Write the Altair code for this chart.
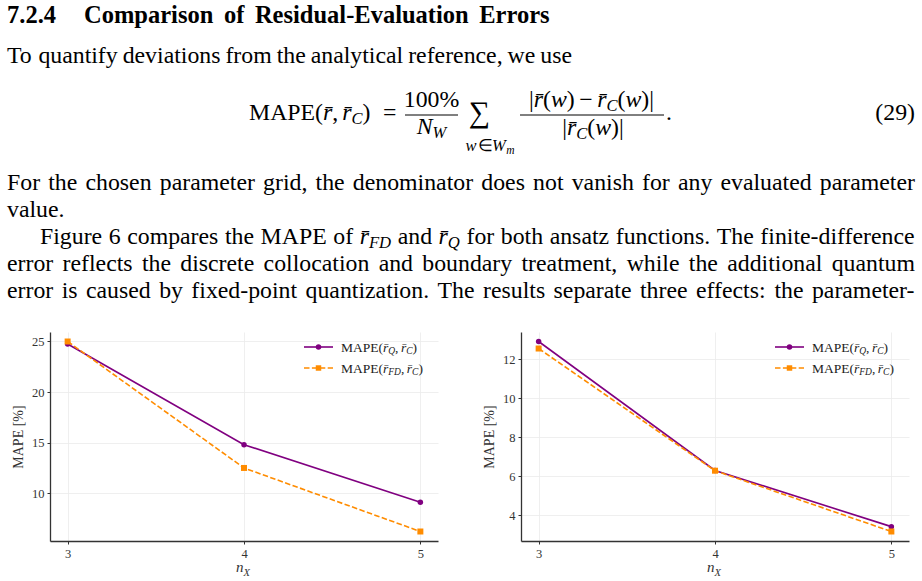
import altair as alt
import pandas as pd

# ---------------------------------------------------------------- data
nx_values = [3, 4, 5]
x_tick_values = [3, 4, 5]
series_keys = ["Q", "FD"]

left_mape_q = [24.75, 14.8, 9.1]
left_mape_fd = [25.0, 12.5, 6.22]
left_y_ticks = [10, 15, 20, 25]

right_mape_q = [12.92, 6.3, 3.42]
right_mape_fd = [12.56, 6.29, 3.17]
right_y_ticks = [4, 6, 8, 10, 12]

# ---------------------------------------------------------------- page text
heading_number = "7.2.4"
heading_title = "Comparison of Residual-Evaluation Errors"
intro_line = "To quantify deviations from the analytical reference, we use"
paragraph_lines = [
    "For the chosen parameter grid, the denominator does not vanish for any evaluated parameter",
    "value.",
    "Figure 6 compares the MAPE of r\u0304_FD and r\u0304_Q for both ansatz functions. The finite-difference",
    "error reflects the discrete collocation and boundary treatment, while the additional quantum",
    "error is caused by fixed-point quantization. The results separate three effects: the parameter-",
]
equation_tag = "(29)"
y_title = "MAPE [%]"

# ---------------------------------------------------------------- style
SERIF = "Liberation Serif"
PURPLE = "#800080"
ORANGE = "#ff8c00"
AXIS_INK = "#333333"
GRID = "#ebebeb"
BODY = 23.8
SUB = 16.5
RBAR = "r\u0304"

# advance widths (1/1000 em) of the Times-metric serif faces
_LOWER = "abcdefghijklmnopqrstuvwxyz"
_UPPER = "ABCDEFGHIJKLMNOPQRSTUVWXYZ"
_COMMON = {" ": 250, ",": 250, ".": 250, "-": 333, "(": 333, ")": 333, "[": 333,
           "]": 333, ":": 278, ";": 278, "%": 833, "|": 200, "=": 564, "\u2212": 564,
           "\u2208": 667, "\u2211": 713, "\u0304": 0}
_COMMON.update({d: 500 for d in "0123456789"})


def _widths(lower, upper):
    table = dict(zip(_LOWER, lower))
    table.update(zip(_UPPER, upper))
    table.update(_COMMON)
    return table


ADV = {
    "roman": _widths(
        [444, 500, 444, 500, 444, 333, 500, 500, 278, 278, 500, 278, 778, 500, 500, 500,
         500, 333, 389, 278, 500, 500, 722, 500, 500, 444],
        [722, 667, 667, 722, 611, 556, 722, 722, 333, 389, 722, 611, 889, 722, 722, 556,
         722, 667, 556, 611, 722, 722, 944, 722, 722, 611]),
    "italic": _widths(
        [500, 500, 444, 500, 444, 278, 500, 500, 278, 278, 444, 278, 722, 500, 500, 500,
         500, 389, 389, 278, 500, 444, 667, 444, 444, 389],
        [611, 611, 667, 722, 611, 611, 722, 722, 333, 444, 667, 556, 833, 667, 722, 611,
         722, 611, 500, 556, 722, 611, 833, 611, 556, 556]),
    "bold": _widths(
        [500, 556, 444, 556, 444, 333, 500, 556, 278, 333, 556, 278, 833, 556, 500, 556,
         556, 444, 389, 333, 556, 500, 722, 500, 500, 444],
        [722, 667, 722, 722, 667, 611, 778, 778, 389, 500, 778, 667, 944, 722, 778, 611,
         778, 722, 556, 667, 722, 722, 1000, 722, 722, 667]),
}


def seg_width(text, style, size):
    return sum(ADV[style].get(ch, 500) for ch in text) * size / 1000.0


def S(text, style="roman", size=BODY, dy=0.0, gap=0.0):
    return dict(text=text, style=style, size=size, dy=dy, gap=gap)


def chain_width(segs):
    return sum(seg_width(s["text"], s["style"], s["size"]) + s["gap"] for s in segs)


def place(segs, x, baseline, rows):
    for s in segs:
        rows.append(dict(t=s["text"], x=x, y=baseline + s["dy"], fs=s["size"], style=s["style"]))
        x += seg_width(s["text"], s["style"], s["size"]) + s["gap"]
    return x


def place_centered(segs, cx, baseline, rows):
    place(segs, cx - chain_width(segs) / 2.0, baseline, rows)


def word_segments(word, size, style):
    if "_" in word:
        base, sub = word.split("_", 1)
        return [S(base, "italic", size), S(sub, "italic", size * 0.7, dy=size * 0.15)]
    return [S(word, style, size)]


def set_line(line, x_left, baseline, rows, x_right=None, size=BODY, style="roman"):
    """Set one line of prose; with x_right the inter-word space is stretched to justify."""
    tokens = [word_segments(w, size, style) for w in line.split(" ")]
    widths = [chain_width(t) for t in tokens]
    if x_right is None or len(tokens) < 2:
        gap = seg_width(" ", style, size)
    else:
        gap = (x_right - x_left - sum(widths)) / (len(tokens) - 1)
    x = x_left
    for tok, w in zip(tokens, widths):
        place(tok, x, baseline, rows)
        x += w + gap


# ---------------------------------------------------------------- page text layout
rows = []
HEAD = 24.5
place([S(heading_number, "bold", HEAD)], 7, 23, rows)
set_line(heading_title, 84, 23, rows, x_right=550, size=HEAD, style="bold")
set_line(intro_line, 7, 63, rows, x_right=572)

para_baselines = [190, 217, 244, 271, 298]
para_left = [7, 7, 40, 7, 7]
para_right = [915, None, 915, 915, 915]
for line, yb, xl, xr in zip(paragraph_lines, para_baselines, para_left, para_right):
    set_line(line, xl, yb, rows, x_right=xr)

# displayed equation
EQ_Y = 120
place([S("MAPE("), S(RBAR, "italic"), S(",", gap=4), S(RBAR, "italic"),
       S("C", "italic", SUB, dy=3.5), S(")")], 249, EQ_Y, rows)
place([S("=")], 383, EQ_Y, rows)
place_centered([S("100%")], 431.5, 107, rows)
place_centered([S("N", "italic"), S("W", "italic", SUB, dy=3.5)], 431.5, 134, rows)
place_centered([S("\u2211", "roman", 30)], 479.5, 122, rows)
place_centered([S("w", "italic", SUB, gap=1.5), S("\u2208", "roman", SUB, gap=3),
                S("W", "italic", SUB, gap=0.5), S("m", "italic", 11.5, dy=2.5)], 490, 151, rows)
place_centered([S("|"), S(RBAR, "italic"), S("("), S("w", "italic"), S(")", gap=4.5),
                S("\u2212", gap=4.5), S(RBAR, "italic"), S("C", "italic", SUB, dy=3.5),
                S("("), S("w", "italic"), S(")|")], 591.5, 107, rows)
place_centered([S("|"), S(RBAR, "italic"), S("C", "italic", SUB, dy=3.5), S("("),
                S("w", "italic"), S(")|")], 593, 135, rows)
place([S(".")], 666, EQ_Y, rows)
place([S(equation_tag)], 915 - seg_width(equation_tag, "roman", BODY), EQ_Y, rows)
fraction_bars = [(405, 458, 115), (520, 664, 115)]

ONE = pd.DataFrame({"k": [0]})
STYLE_PROPS = {"roman": {}, "italic": {"fontStyle": "italic"}, "bold": {"fontWeight": "bold"}}


def text_panel():
    df = pd.DataFrame(rows)
    layers = []
    for style, props in STYLE_PROPS.items():
        part = df[df["style"] == style]
        if part.empty:
            continue
        layers.append(
            alt.Chart(part).mark_text(align="left", baseline="alphabetic", font=SERIF,
                                      color="#000000", **props).encode(
                x=alt.X("x:Q", scale=None, axis=None),
                y=alt.Y("y:Q", scale=None, axis=None),
                text="t:N",
                size=alt.Size("fs:Q", scale=None, legend=None),
            )
        )
    for x0, x1, yb in fraction_bars:
        layers.append(alt.Chart(ONE).mark_rule(color="#000000", strokeWidth=1.0).encode(
            x=alt.value(x0), x2=alt.value(x1), y=alt.value(yb)))
    return alt.layer(*layers).properties(width=922, height=332)


# ---------------------------------------------------------------- chart panels
def value_text(seg_rows, color):
    out = []
    for r in seg_rows:
        out.append(alt.Chart(ONE).mark_text(
            text=r["t"], align="left", baseline="alphabetic", font=SERIF, fontSize=r["fs"],
            color=color, **STYLE_PROPS[r["style"]]).encode(x=alt.value(r["x"]), y=alt.value(r["y"])))
    return out


def mape_panel(q_vals, fd_vals, y_ticks):
    df = pd.DataFrame({
        "nx": nx_values * 2,
        "mape": q_vals + fd_vals,
        "series": ["Q"] * len(q_vals) + ["FD"] * len(fd_vals),
    })
    lo, hi = df["mape"].min(), df["mape"].max()
    margin = 0.05 * (hi - lo)

    common_axis = dict(grid=True, gridColor=GRID, gridWidth=0.8, domainColor=AXIS_INK,
                       domainWidth=1.3, tickColor=AXIS_INK, tickSize=3, tickWidth=1,
                       labelFont=SERIF, labelFontSize=12.5, labelColor=AXIS_INK)
    x_enc = alt.X("nx:Q", scale=alt.Scale(domain=[2.9, 5.1], nice=False, zero=False),
                  axis=alt.Axis(values=x_tick_values, format="d", title=None, labelPadding=3,
                                **common_axis))
    y_enc = alt.Y("mape:Q", scale=alt.Scale(domain=[lo - margin, hi + margin], nice=False, zero=False),
                  axis=alt.Axis(values=y_ticks, format="d", title=y_title, titleFont=SERIF,
                                titleFontSize=14, titleFontWeight="normal", titleColor=AXIS_INK,
                                titlePadding=6, labelPadding=3, **common_axis))
    color = alt.Color("series:N", scale=alt.Scale(domain=series_keys, range=[PURPLE, ORANGE]),
                      legend=None)
    base = alt.Chart(df).encode(x=x_enc, y=y_enc, color=color)
    q = base.transform_filter(alt.datum.series == "Q")
    fd = base.transform_filter(alt.datum.series == "FD")
    layers = [
        q.mark_line(strokeWidth=1.6),
        q.mark_point(shape="circle", filled=True, size=30, opacity=1),
        fd.mark_line(strokeWidth=1.6, strokeDash=[5.5, 2.4]),
        fd.mark_point(shape="square", filled=True, size=36, opacity=1),
    ]

    # legend in the upper right corner
    entries = [("Q", PURPLE, "circle", None, 15), ("FD", ORANGE, "square", [5.5, 2.4], 36)]
    for sub, col, shape, dash, yc in entries:
        rule_kw = dict(color=col, strokeWidth=1.6)
        if dash:
            rule_kw["strokeDash"] = dash
        layers.append(alt.Chart(ONE).mark_rule(**rule_kw).encode(
            x=alt.value(254), x2=alt.value(283), y=alt.value(yc)))
        layers.append(alt.Chart(ONE).mark_point(shape=shape, filled=True, size=30, opacity=1,
                                                color=col).encode(x=alt.value(268.5), y=alt.value(yc)))
        lrows = []
        place([S("MAPE(", size=13.5), S(RBAR, "italic", 13.5), S(sub, "italic", 9.5, dy=2.5),
               S(",", size=13.5, gap=2.5), S(RBAR, "italic", 13.5), S("C", "italic", 9.5, dy=2.5),
               S(")", size=13.5)], 291, yc + 4.5, lrows)
        layers += value_text(lrows, "#222222")

    # x-axis title n_X
    trows = []
    place([S("n", "italic", 15), S("X", "italic", 10.5, dy=3.5)], 186, 240, trows)
    layers += value_text(trows, AXIS_INK)

    return alt.layer(*layers).properties(width=388, height=209)


def spacer(w):
    return alt.Chart(ONE).mark_point(opacity=0, size=1).encode(
        x=alt.value(w / 2), y=alt.value(5)).properties(width=w, height=10)


left = mape_panel(left_mape_q, left_mape_fd, left_y_ticks)
right = mape_panel(right_mape_q, right_mape_fd, right_y_ticks)

row = alt.hconcat(spacer(10.5), left, spacer(43.5), right, spacing=0)
chart = alt.vconcat(text_panel(), row, spacing=0).properties(padding=0).configure_view(strokeWidth=0)

chart.save("out.html", embed_options={"renderer": "svg", "actions": False})
